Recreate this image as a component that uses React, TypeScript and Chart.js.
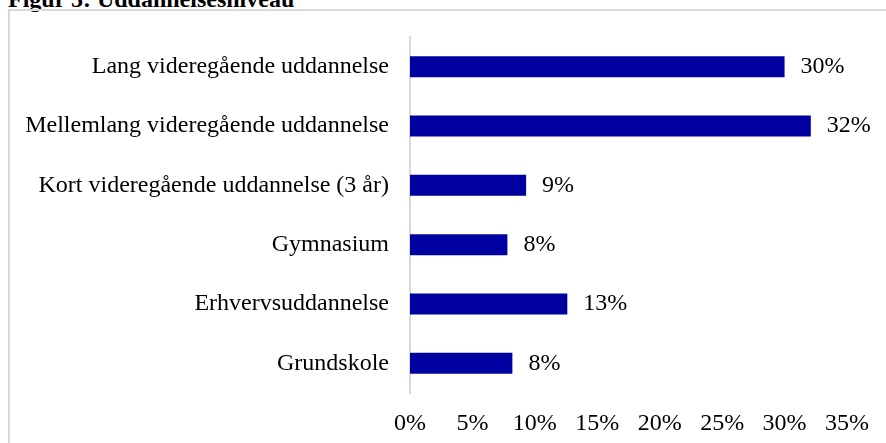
import React, { useEffect, useRef } from "react";
import { Chart, registerables } from "chart.js";

Chart.register(...registerables);

const categories = [
  "Lang videregående uddannelse",
  "Mellemlang videregående uddannelse",
  "Kort videregående uddannelse (3 år)",
  "Gymnasium",
  "Erhvervsuddannelse",
  "Grundskole",
];
const values = [30.0, 32.1, 9.3, 7.8, 12.6, 8.2];
const xTicks = [0, 5, 10, 15, 20, 25, 30, 35];
const title = "Figur 5: Uddannelsesniveau";

const FONT = "'Liberation Serif', 'Times New Roman', serif";
const FS = 24;

const labelPlugin = {
  id: "valueLabels",
  afterDatasetsDraw(chart: any) {
    const ctx = chart.ctx;
    const meta = chart.getDatasetMeta(0);
    ctx.save();
    ctx.font = `${FS}px ${FONT}`;
    ctx.fillStyle = "#000";
    ctx.textAlign = "left";
    ctx.textBaseline = "middle";
    meta.data.forEach((bar: any, i: number) => {
      ctx.fillText(Math.round(values[i]) + "%", bar.x + 16, bar.y);
    });
    ctx.restore();
  },
};

export default function App() {
  const ref = useRef<HTMLCanvasElement>(null);
  useEffect(() => {
    if (!ref.current) return;
    const chart = new Chart(ref.current, {
      type: "bar",
      data: {
        labels: categories,
        datasets: [
          {
            data: values,
            backgroundColor: "#0000A0",
            borderWidth: 0,
            barPercentage: 0.355,
            categoryPercentage: 1,
          },
        ],
      },
      options: {
        indexAxis: "y",
        animation: false,
        responsive: false,
        maintainAspectRatio: false,
        layout: { padding: { left: 0, right: 39, top: 37, bottom: 0 } },
        plugins: {
          legend: { display: false },
          tooltip: { enabled: false },
          title: { display: false },
        },
        scales: {
          x: {
            min: 0,
            max: 35,
            afterBuildTicks: (s: any) => {
              s.ticks = xTicks.map((v) => ({ value: v }));
            },
            afterFit: (s: any) => {
              s.height = 50;
            },
            grid: { display: false, drawTicks: false },
            border: { display: false },
            ticks: {
              padding: 16,
              color: "#000",
              font: { family: FONT, size: FS },
              callback: (v: any) => v + "%",
              maxRotation: 0,
            },
          },
          y: {
            afterFit: (s: any) => {
              s.width = 410;
            },
            grid: { display: false, drawTicks: false },
            border: { display: true, color: "#d9d9d9", width: 2 },
            ticks: {
              padding: 21,
              color: "#000",
              font: { family: FONT, size: FS },
            },
          },
        },
      },
      plugins: [labelPlugin],
    });
    return () => chart.destroy();
  }, []);

  return (
    <div style={{ position: "absolute", left: 0, top: 0, width: 886, height: 443, overflow: "hidden" }}>
      <div
        style={{
          position: "absolute",
          left: 8,
          top: -14,
          fontFamily: FONT,
          fontWeight: "bold",
          fontSize: 24,
          color: "#000",
          whiteSpace: "nowrap",
        }}
      >
        {title}
      </div>
      <div
        style={{
          position: "absolute",
          left: 8,
          top: 9,
          width: 950,
          height: 500,
          border: "2px solid #d9d9d9",
          boxSizing: "border-box",
        }}
      />
      <canvas
        ref={ref}
        width={886}
        height={443}
        style={{ position: "absolute", left: 0, top: 0, width: 886, height: 443 }}
      />
    </div>
  );
}
